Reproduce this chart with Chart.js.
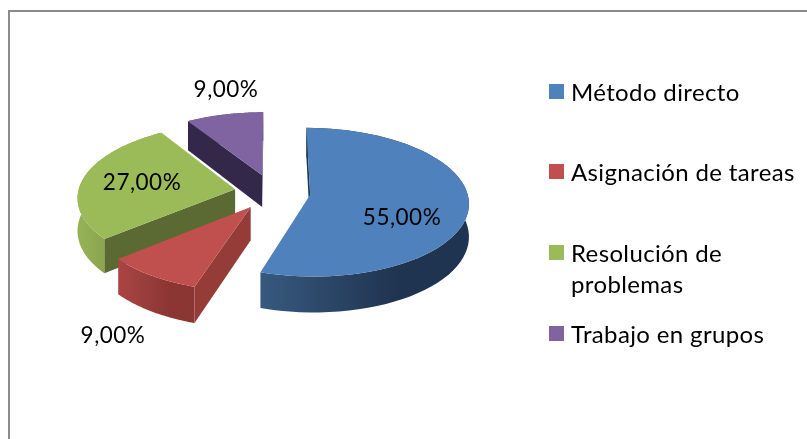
<!DOCTYPE html>
<html lang="es">
<head>
<meta charset="utf-8">
<title>Métodos</title>
<script src="https://cdn.jsdelivr.net/npm/chart.js@4"></script>
<style>
  html, body { margin: 0; padding: 0; background: #fff; overflow: hidden; }
  #frame { position: absolute; left: 8px; top: 10px; width: 799px; height: 429px; border-left: 2px solid #8c8c8c; border-top: 2px solid #8c8c8c; box-sizing: border-box; }
  #chart { position: absolute; left: 0; top: 0; }
  #legend { position: absolute; left: 549px; top: 0; width: 258px; font: 24px/31px Lato, sans-serif; letter-spacing: 0.36px; color: #000; }
  .item { position: absolute; left: 0; width: 258px; }
  .item i { position: absolute; left: 0; top: 0; width: 15px; height: 15px; }
  .item span { position: absolute; left: 22px; top: -8px; width: 236px; }
</style>
</head>
<body>
<div id="frame"></div>
<canvas id="chart" width="807" height="439"></canvas>
<div id="legend"></div>
<script>
const labels = ['Método directo', 'Asignación de tareas', 'Resolución de problemas', 'Trabajo en grupos'];
const values = [55, 9, 27, 9];
const topColors = ['#4f81bd', '#c0504d', '#9bbb59', '#8064a2'];
const cutColors = ['#1f3551', '#953c39', '#5a6a32', '#33284a'];
const rimColors = [
  ['#37597f', '#2b4666', '#1f3450', '#1f3450'],
  ['#a94543', '#9a3e3c', '#8c3634', '#8c3634'],
  ['#97b356', '#8aa44e', '#7f9747', '#7f9747'],
  ['#6a5388', '#5a4674', '#4c3b62', '#4c3b62']
];
// donde va cada etiqueta
const labelSpots = [[402, 218], [113, 336], [142, 183], [226, 90]];

const legendTops = [84, 164, 245, 326];

// vista 3D del pastel
const TILT = 0.47;
const PERSP = 0.00064;
const DEPTH = 32.5;

function project(cx, cy, u, v, h) {
  const f = 1 + PERSP * v;
  return [cx + u * f, cy + (v * TILT + h) * f];
}

function tracePath(ctx, pts) {
  ctx.beginPath();
  pts.forEach((p, i) => i ? ctx.lineTo(p[0], p[1]) : ctx.moveTo(p[0], p[1]));
  ctx.closePath();
}

function drawSlice(ctx, arc, i) {
  const mid = (arc.startAngle + arc.endAngle) / 2;
  const ox = Math.cos(mid) * arc.options.offset;
  const oy = Math.sin(mid) * arc.options.offset;
  const R = arc.outerRadius;
  const steps = 60;

  const ringTop = [];
  const ringBottom = [];
  for (let s = 0; s <= steps; s++) {
    const a = arc.startAngle + (arc.endAngle - arc.startAngle) * s / steps;
    const u = ox + Math.cos(a) * R;
    const v = oy + Math.sin(a) * R;
    ringTop.push(project(arc.x, arc.y, u, v, 0));
    ringBottom.push(project(arc.x, arc.y, u, v, DEPTH));
  }
  const hubTop = project(arc.x, arc.y, ox, oy, 0);
  const hubBottom = project(arc.x, arc.y, ox, oy, DEPTH);

  // pared exterior
  const xs = ringBottom.map(p => p[0]);
  const grad = ctx.createLinearGradient(Math.min(...xs), 0, Math.max(...xs), 0);
  rimColors[i].forEach((c, n) => grad.addColorStop(n / (rimColors[i].length - 1), c));
  ctx.fillStyle = grad;
  tracePath(ctx, ringTop.concat(ringBottom.slice().reverse()));
  ctx.fill();

  // caras del corte, solo las que miran a la camara
  const first = [ringTop[0], hubTop, hubBottom, ringBottom[0]];
  const last = [hubTop, ringTop[steps], ringBottom[steps], hubBottom];
  [first, last].forEach(q => {
    let area = 0;
    q.forEach((p, n) => {
      const r = q[(n + 1) % q.length];
      area += p[0] * r[1] - r[0] * p[1];
    });
    if (area > 0) {
      ctx.fillStyle = cutColors[i];
      tracePath(ctx, q);
      ctx.fill();
    }
  });

  ctx.fillStyle = topColors[i];
  tracePath(ctx, [hubTop].concat(ringTop));
  ctx.fill();
}

const pie3d = {
  id: 'pie3d',
  beforeDatasetDraw(chart, args) {
    const ctx = chart.ctx;
    const arcs = args.meta.data;
    const order = arcs.map((a, i) => i).sort((a, b) => {
      const ma = Math.sin((arcs[a].startAngle + arcs[a].endAngle) / 2);
      const mb = Math.sin((arcs[b].startAngle + arcs[b].endAngle) / 2);
      return ma - mb;
    });
    order.forEach(i => drawSlice(ctx, arcs[i], i));
    return false;
  },
  afterDraw(chart) {
    const ctx = chart.ctx;
    ctx.save();
    ctx.fillStyle = '#000';
    ctx.font = '22.5px Lato, sans-serif';
    ctx.letterSpacing = '0.5px';
    ctx.textAlign = 'center';
    ctx.textBaseline = 'middle';
    values.forEach((v, i) => {
      ctx.fillText(v.toFixed(2).replace('.', ',') + '%', labelSpots[i][0], labelSpots[i][1]);
    });
    ctx.restore();
  }
};

const chart = new Chart(document.getElementById('chart').getContext('2d'), {
  type: 'pie',
  data: {
    labels: labels,
    datasets: [{ data: values, backgroundColor: topColors, borderWidth: 0, offset: 38, hoverOffset: 0 }]
  },
  options: {
    animation: false,
    responsive: false,
    events: [],
    radius: 157,
    layout: { padding: { left: 0, top: 0, right: 262, bottom: 55 } },
    plugins: { legend: { display: false }, tooltip: { enabled: false } }
  },
  plugins: [pie3d]
});

// leyenda en HTML
const legendBox = document.getElementById('legend');
Chart.overrides.pie.plugins.legend.labels.generateLabels(chart).forEach((item, i) => {
  const row = document.createElement('div');
  row.className = 'item';
  row.style.top = legendTops[i] + 'px';
  const box = document.createElement('i');
  box.style.background = item.fillStyle;
  const text = document.createElement('span');
  text.textContent = item.text;
  row.appendChild(box);
  row.appendChild(text);
  legendBox.appendChild(row);
});
</script>
</body>
</html>
